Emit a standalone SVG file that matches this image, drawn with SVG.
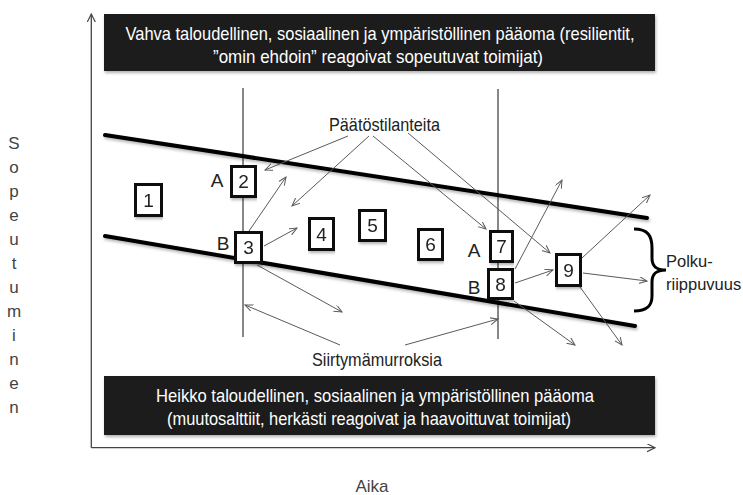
<svg xmlns="http://www.w3.org/2000/svg" width="743" height="495" viewBox="0 0 743 495">
  <style>
    .t { font-family: "Liberation Sans Narrow", "Arial Narrow", "Liberation Sans", Arial, sans-serif; font-size: 19px; fill: #222; }
    .w { fill: #fff; }
    .mid { text-anchor: middle; }
    .side { font-size: 17px; fill: #444; }
    .brace-label { font-size: 16.5px; }
    .banner { fill: #1e1b1c; }
    .box rect { fill: #fff; stroke: #111; stroke-width: 3; }
    .band { stroke: #000; stroke-width: 4; fill: none; stroke-linecap: round; }
    .thin { stroke: #111; stroke-width: 1; fill: none; }
    .axis { stroke: #444; stroke-width: 1.3; fill: none; }
    .arr { stroke: #5a5a5a; stroke-width: 1; fill: none; marker-end: url(#open); }
  </style>
  <defs>
    <marker id="open" markerWidth="10" markerHeight="10" refX="8" refY="3.5" orient="auto" markerUnits="userSpaceOnUse">
      <path d="M0,0 L8,3.5 L0,7" fill="none" stroke="#5a5a5a" stroke-width="1"/>
    </marker>
    <marker id="axisHead" markerWidth="10" markerHeight="10" refX="8" refY="4" orient="auto" markerUnits="userSpaceOnUse">
      <path d="M0,0 L8,4 L0,8" fill="none" stroke="#444" stroke-width="1.2"/>
    </marker>
    <filter id="soft" x="-5%" y="-20%" width="110%" height="160%">
      <feDropShadow dx="1" dy="2" stdDeviation="1.5" flood-color="#000" flood-opacity="0.3"/>
    </filter>
  </defs>

  <!-- axes -->
  <g id="axes">
    <line class="axis" x1="91.3" y1="447.7" x2="91.3" y2="14" marker-end="url(#axisHead)"/>
    <line class="axis" x1="91.3" y1="447.7" x2="655" y2="447.7" marker-end="url(#axisHead)"/>
    <text class="t side" x="372" y="492" text-anchor="middle">Aika</text>
    <g id="y-label" class="t side" text-anchor="middle">
      <text x="14" y="149">S</text>
      <text x="14" y="173">o</text>
      <text x="14" y="197">p</text>
      <text x="14" y="221">e</text>
      <text x="14" y="245">u</text>
      <text x="14" y="269">t</text>
      <text x="14" y="293">u</text>
      <text x="14" y="317">m</text>
      <text x="14" y="341">i</text>
      <text x="14" y="365">n</text>
      <text x="14" y="389">e</text>
      <text x="14" y="413">n</text>
    </g>
  </g>

  <!-- capital banners -->
  <g id="strong-capital">
    <rect class="banner" x="104" y="14" width="551" height="57" filter="url(#soft)"/>
    <text class="t w" x="380" y="40" text-anchor="middle" textLength="509" lengthAdjust="spacingAndGlyphs">Vahva taloudellinen, sosiaalinen ja ympäristöllinen pääoma (resilientit,</text>
    <text class="t w" x="378" y="63" text-anchor="middle" textLength="330" lengthAdjust="spacingAndGlyphs">”omin ehdoin” reagoivat sopeutuvat toimijat)</text>
  </g>
  <g id="weak-capital">
    <rect class="banner" x="104" y="376" width="551" height="59" filter="url(#soft)"/>
    <text class="t w" x="375" y="402" text-anchor="middle" textLength="438" lengthAdjust="spacingAndGlyphs">Heikko taloudellinen, sosiaalinen ja ympäristöllinen pääoma</text>
    <text class="t w" x="369" y="425" text-anchor="middle" textLength="404" lengthAdjust="spacingAndGlyphs">(muutosalttiit, herkästi reagoivat ja haavoittuvat toimijat)</text>
  </g>

  <!-- transition markers -->
  <g id="transitions">
    <line class="thin" x1="243" y1="88" x2="243" y2="337"/>
    <line class="thin" x1="498" y1="89" x2="498" y2="339"/>
  </g>

  <!-- corridor boundaries -->
  <g id="corridor" filter="url(#soft)">
    <line class="band" x1="105" y1="135" x2="647" y2="218"/>
    <line class="band" x1="105" y1="236" x2="635" y2="326"/>
  </g>

  <!-- connectors -->
  <g id="connectors">
    <line class="arr" x1="348" y1="136" x2="265" y2="170"/>
    <line class="arr" x1="369" y1="136" x2="292" y2="206"/>
    <line class="arr" x1="373" y1="136" x2="486" y2="229"/>
    <line class="arr" x1="408" y1="133" x2="550" y2="253"/>
    <line class="arr" x1="249" y1="231" x2="286" y2="177"/>
    <line class="arr" x1="264" y1="246" x2="297" y2="228"/>
    <line class="arr" x1="257" y1="265" x2="342" y2="312"/>
    <line class="arr" x1="340" y1="345" x2="245" y2="305"/>
    <line class="arr" x1="405" y1="345" x2="498" y2="319"/>
    <line class="arr" x1="515" y1="269" x2="562" y2="180"/>
    <line class="arr" x1="515" y1="283" x2="553" y2="270"/>
    <line class="arr" x1="514" y1="301" x2="575" y2="345"/>
    <line class="arr" x1="582" y1="258" x2="650" y2="195"/>
    <line class="arr" x1="583" y1="273" x2="647" y2="281"/>
    <line class="arr" x1="580" y1="287" x2="622" y2="345"/>
  </g>

  <!-- labels -->
  <g id="decisions">
    <text class="t" x="384.5" y="131" text-anchor="middle" textLength="111" lengthAdjust="spacingAndGlyphs">Päätöstilanteita</text>
  </g>
  <g id="disruptions">
    <text class="t" x="377" y="366" text-anchor="middle" textLength="130" lengthAdjust="spacingAndGlyphs">Siirtymämurroksia</text>
  </g>
  <g id="path-dependency">
    <path d="M634,229 C648,229 652,236 652,248 L652,258 C652,266 656,270 666,270 C656,270 652,274 652,282 L652,296 C652,305 648,311 634,311" fill="none" stroke="#000" stroke-width="3"/>
    <text class="t brace-label" x="666" y="267">Polku-</text>
    <text class="t brace-label" x="666" y="290">riippuvuus</text>
  </g>

  <!-- states -->
  <g id="box1" class="box" filter="url(#soft)"><rect x="135.5" y="184.5" width="26" height="31"/><text class="t mid" x="148.5" y="207">1</text></g>
  <g id="box2" class="box" filter="url(#soft)"><rect x="231.5" y="166.5" width="24" height="30"/><text class="t mid" x="243.5" y="188">2</text></g>
  <g id="box3" class="box" filter="url(#soft)"><rect x="235.5" y="232.5" width="26" height="30"/><text class="t mid" x="248.5" y="254">3</text></g>
  <g id="box4" class="box" filter="url(#soft)"><rect x="309.5" y="218.5" width="24" height="31"/><text class="t mid" x="321.5" y="241">4</text></g>
  <g id="box5" class="box" filter="url(#soft)"><rect x="359.5" y="210.5" width="26" height="30"/><text class="t mid" x="372.5" y="232">5</text></g>
  <g id="box6" class="box" filter="url(#soft)"><rect x="418.5" y="229.5" width="24" height="30"/><text class="t mid" x="430.5" y="251">6</text></g>
  <g id="box7" class="box" filter="url(#soft)"><rect x="490.5" y="231.5" width="22" height="30"/><text class="t mid" x="501.5" y="253">7</text></g>
  <g id="box8" class="box" filter="url(#soft)"><rect x="488.5" y="269.5" width="24" height="29"/><text class="t mid" x="500.5" y="291">8</text></g>
  <g id="box9" class="box" filter="url(#soft)"><rect x="556.5" y="254.5" width="24" height="31"/><text class="t mid" x="568.5" y="277">9</text></g>

  <!-- option letters -->
  <g id="options" class="t" text-anchor="middle">
    <text x="217" y="187">A</text>
    <text x="223" y="250">B</text>
    <text x="474" y="257">A</text>
    <text x="474" y="294">B</text>
  </g>
</svg>
